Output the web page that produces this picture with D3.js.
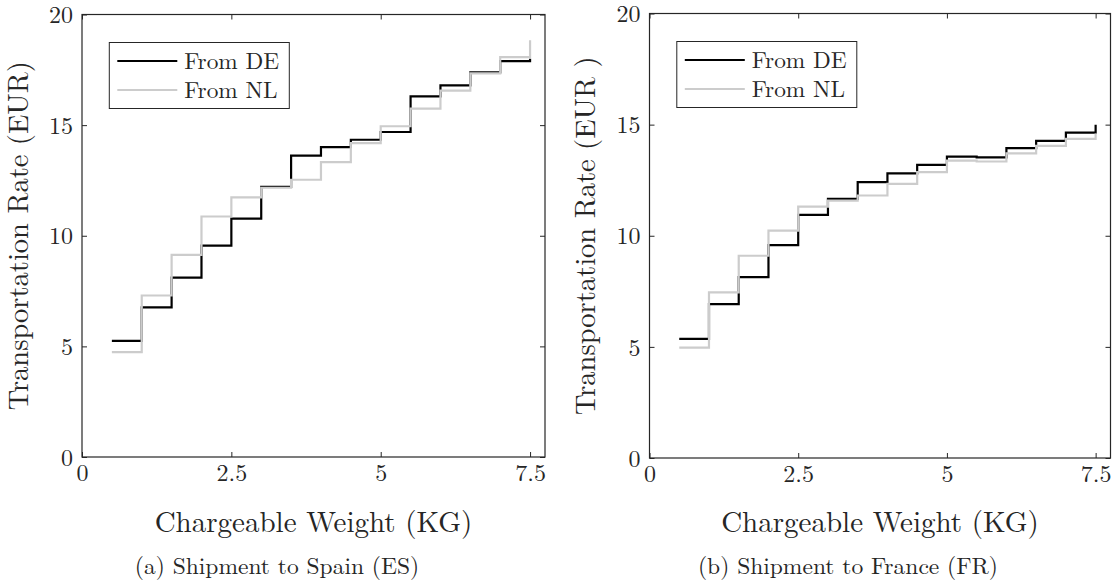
<!DOCTYPE html>
<html>
<head>
<meta charset="utf-8">
<script src="https://cdn.jsdelivr.net/npm/d3@7/dist/d3.min.js"></script>
<style>
  html, body { margin: 0; padding: 0; background: #fff; }
  svg { display: block; }
</style>
</head>
<body>
<svg id="chart" width="1113" height="582"></svg>
<script>
// ---- data ----
const weights = [0.5, 1, 1.5, 2, 2.5, 3, 3.5, 4, 4.5, 5, 5.5, 6, 6.5, 7, 7.5];
const esFromDE = [5.25, 6.76, 8.11, 9.55, 10.77, 12.21, 13.62, 14.01, 14.34, 14.69, 16.30, 16.80, 17.38, 17.89, 18.0];
const esFromNL = [4.74, 7.30, 9.14, 10.87, 11.73, 12.17, 12.53, 13.33, 14.19, 14.95, 15.75, 16.56, 17.34, 18.07, 18.84];
const frFromDE = [5.36, 6.92, 8.14, 9.58, 10.94, 11.66, 12.41, 12.81, 13.19, 13.56, 13.53, 13.94, 14.27, 14.64, 14.99];
const frFromNL = [4.97, 7.45, 9.10, 10.23, 11.31, 11.58, 11.81, 12.33, 12.86, 13.38, 13.34, 13.71, 14.04, 14.36, 14.60];
const xTicks = [0, 2.5, 5, 7.5];
const xTickLabels = ["0", "2.5", "5", "7.5"];
const yTicks = [0, 5, 10, 15, 20];
const yTickLabels = ["0", "5", "10", "15", "20"];
const seriesNames = ["From DE", "From NL"];
const seriesColors = ["#000000", "#cccccc"];

const FONT = "Latin Modern Roman";

const panels = [
  { de: esFromDE, nl: esFromNL, x0: 82, x1: 545, y0: 14.5, y1: 457,
    ylabel: "Transportation Rate (EUR)", ylabelX: 27.5,
    xlabel: "Chargeable Weight (KG)", caption: "(a) Shipment to Spain (ES)", capX: 277 },
  { de: frFromDE, nl: frFromNL, x0: 649.5, x1: 1110.5, y0: 13.5, y1: 458,
    ylabel: "Transportation Rate (EUR )", ylabelX: 595,
    xlabel: "Chargeable Weight (KG)", caption: "(b) Shipment to France (FR)", capX: 848 }
];

const svg = d3.select("#chart");
const axisColor = "#262626";
const textColor = "#262626";

function styleText(sel, size) {
  return sel.style("font-family", FONT).style("font-size", size + "px").attr("fill", textColor);
}

panels.forEach(p => {
  const x = d3.scaleLinear().domain([0, 7.75]).range([p.x0, p.x1]);
  const y = d3.scaleLinear().domain([0, 20]).range([p.y1, p.y0]);
  const g = svg.append("g");

  // series
  const line = d3.line().x(d => x(d[0])).y(d => y(d[1])).curve(d3.curveStepAfter);
  [p.de, p.nl].forEach((vals, i) => {
    g.append("path")
      .datum(weights.map((w, k) => [w, vals[k]]))
      .attr("d", line)
      .attr("fill", "none")
      .attr("stroke", seriesColors[i])
      .attr("stroke-width", 2.2);
  });

  // axes
  const fmtX = d => xTickLabels[xTicks.indexOf(d)];
  const fmtY = d => yTickLabels[yTicks.indexOf(d)];
  const bottom = g.append("g").attr("transform", `translate(0,${p.y1})`)
    .call(d3.axisBottom(x).tickValues(xTicks).tickFormat(fmtX).tickSizeInner(-5).tickSizeOuter(0).tickPadding(7));
  const top = g.append("g").attr("transform", `translate(0,${p.y0})`)
    .call(d3.axisTop(x).tickValues(xTicks).tickFormat("").tickSizeInner(-5).tickSizeOuter(0));
  const left = g.append("g").attr("transform", `translate(${p.x0},0)`)
    .call(d3.axisLeft(y).tickValues(yTicks).tickFormat(fmtY).tickSizeInner(-5).tickSizeOuter(0).tickPadding(9));
  const right = g.append("g").attr("transform", `translate(${p.x1},0)`)
    .call(d3.axisRight(y).tickValues(yTicks).tickFormat("").tickSizeInner(-5).tickSizeOuter(0));
  [bottom, top, left, right].forEach(a => {
    a.attr("font-family", null);
    a.select(".domain").remove();
    a.selectAll(".tick line").attr("stroke", axisColor).attr("stroke-width", 1);
    styleText(a.selectAll(".tick text"), 24);
  });
  left.selectAll(".tick text").attr("dy", "0.34em");

  // frame
  g.append("rect")
    .attr("x", p.x0).attr("y", p.y0)
    .attr("width", p.x1 - p.x0).attr("height", p.y1 - p.y0)
    .attr("fill", "none").attr("stroke", axisColor).attr("stroke-width", 1.2);

  // labels
  styleText(g.append("text"), 29)
    .attr("x", (p.x0 + p.x1) / 2).attr("y", 532)
    .attr("text-anchor", "middle")
    .text(p.xlabel);
  styleText(g.append("text"), 28.5)
    .attr("transform", `translate(${p.ylabelX},${(p.y0 + p.y1) / 2}) rotate(-90)`)
    .attr("text-anchor", "middle")
    .text(p.ylabel);
  styleText(g.append("text"), 23.5)
    .attr("x", p.capX).attr("y", 574)
    .attr("text-anchor", "middle")
    .text(p.caption);

  // legend
  const lx = p.x0 + 27.3, ly = p.y0 + 28;
  const lg = g.append("g");
  lg.append("rect").attr("x", lx).attr("y", ly).attr("width", 180).attr("height", 66)
    .attr("fill", "#fff").attr("stroke", axisColor).attr("stroke-width", 1);
  seriesNames.forEach((name, i) => {
    const yy = ly + 18.5 + i * 29;
    lg.append("line").attr("x1", lx + 8).attr("x2", lx + 68).attr("y1", yy).attr("y2", yy)
      .attr("stroke", seriesColors[i]).attr("stroke-width", 2.2);
    styleText(lg.append("text"), 23.3)
      .attr("x", lx + 75).attr("y", yy).attr("dy", "0.33em")
      .text(name);
  });
});
</script>
</body>
</html>
